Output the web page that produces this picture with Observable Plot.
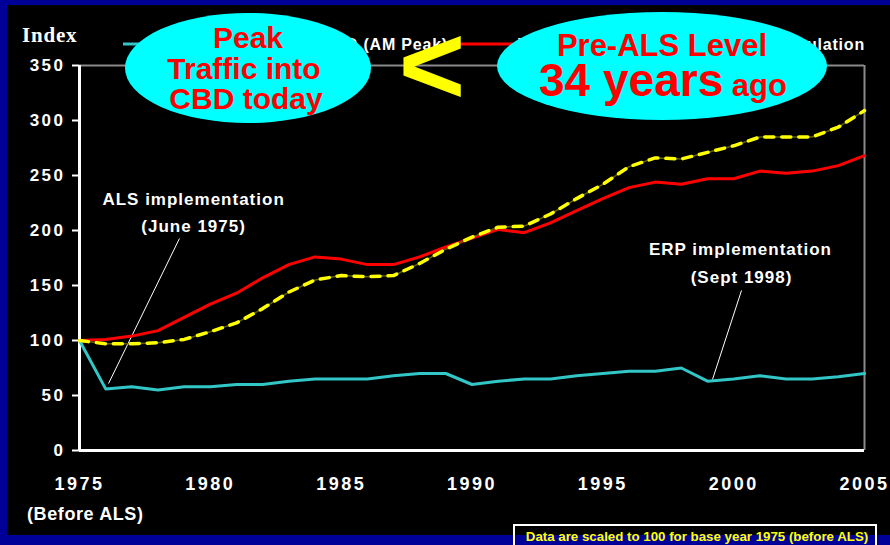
<!DOCTYPE html>
<html>
<head>
<meta charset="utf-8">
<script src="https://cdn.jsdelivr.net/npm/d3@7"></script>
<script src="https://cdn.jsdelivr.net/npm/@observablehq/plot@0.6"></script>
<style>
  html, body { margin: 0; padding: 0; background: #000099; }
  #chart { width: 890px; height: 545px; }
</style>
</head>
<body>
<div id="chart"></div>
<script>
// ---- data ----
const years = [1975,1976,1977,1978,1979,1980,1981,1982,1983,1984,1985,1986,1987,1988,1989,1990,
               1991,1992,1993,1994,1995,1996,1997,1998,1999,2000,2001,2002,2003,2004,2005];
const traffic = [100,56,58,55,58,58,60,60,63,65,65,65,68,70,70,60,63,65,65,68,70,72,72,75,63,65,68,65,65,67,70];
const vehicles = [100,101,104,109,121,133,143,157,169,176,174,169,169,176,185,193,201,198,207,218,229,239,244,242,247,247,254,252,254,259,268];
const population = [100,97,97,98,101,108,116,129,144,155,159,158,159,170,183,194,203,204,215,229,242,258,266,265,271,277,285,285,285,294,309];
const seriesNames = ["Traffic into CBD (AM Peak)", "Vehicle Population", "Working Population"];
const xTicks = [1975,1980,1985,1990,1995,2000,2005];
const yTicks = [0,50,100,150,200,250,300,350];
const annotations = [
  {x: 1979.36, y: 228, text: "ALS implementation"},
  {x: 1979.36, y: 203.6, text: "(June 1975)"},
  {x: 2000.26, y: 182.7, text: "ERP implementation"},
  {x: 2000.3, y: 157.3, text: "(Sept 1998)"}
];
const pointers = [
  {x1: 1978.82, y1: 192.7, x2: 1976.11, y2: 60.9},
  {x1: 2000.3, y1: 145.5, x2: 1999.19, y2: 64.5}
];
const bubble1 = ["Peak", "Traffic into", "CBD today"];
const bubble2 = ["Pre-ALS Level", "34 years", "ago"];
const noteText = "Data are scaled to 100 for base year 1975 (before ALS)";

const rows = years.map((year, i) => ({year, traffic: traffic[i], vehicles: vehicles[i], population: population[i]}));

const FONT = "'Liberation Sans', Arial, Helvetica, sans-serif";

const svg = Plot.plot({
  width: 890,
  height: 545,
  marginLeft: 79,
  marginRight: 26,
  marginTop: 65,
  marginBottom: 95,
  style: {background: "#000099", color: "white", fontFamily: FONT, fontSize: "17px", fontWeight: "bold", overflow: "visible"},
  x: {domain: [1975, 2005], label: null},
  y: {domain: [0, 350], label: null},
  marks: [
    Plot.ruleY([350], {stroke: "#8a8a8a", strokeWidth: 2}),
    Plot.ruleX([2005], {stroke: "#8a8a8a", strokeWidth: 2}),
    Plot.axisY({ticks: yTicks, tickSize: 7, tickPadding: 7, stroke: "white", strokeWidth: 2, fontSize: 17, label: null}),
    Plot.axisX({ticks: xTicks, tickSize: 0, tickPadding: 27, tickFormat: d => String(d), fontSize: 18, label: null}),
    Plot.ruleY([0], {stroke: "white", strokeWidth: 3}),
    Plot.ruleX([1975], {stroke: "white", strokeWidth: 3}),
    Plot.link(pointers, {x1: "x1", y1: "y1", x2: "x2", y2: "y2", stroke: "white", strokeWidth: 1}),
    Plot.line(rows, {x: "year", y: "traffic", stroke: "#33c6c6", strokeWidth: 3}),
    Plot.line(rows, {x: "year", y: "vehicles", stroke: "#ff0000", strokeWidth: 3}),
    Plot.line(rows, {x: "year", y: "population", stroke: "#5c5c00", strokeWidth: 1.5}),
    Plot.line(rows, {x: "year", y: "population", stroke: "#ffff00", strokeWidth: 3.5, strokeDasharray: "9,8"}),
    Plot.text(annotations, {x: "x", y: "y", text: "text", fill: "white", fontSize: 17, fontWeight: "bold", textAnchor: "middle"})
  ]
});

const s = d3.select(svg);
// letter spacing like the original slide
s.selectAll('g[aria-label="y-axis tick label"] text').attr("letter-spacing", "2.5px");
s.selectAll('g[aria-label="x-axis tick label"] text').attr("letter-spacing", "2.5px");
s.selectAll('g[aria-label="text"] text').attr("letter-spacing", "1px");

// black panel behind everything
s.insert("rect", ":first-child").attr("x", 7).attr("y", 5).attr("width", 883).attr("height", 530).attr("fill", "black");

// "Index" label
s.append("text").attr("x", 22).attr("y", 42).attr("fill", "white").attr("text-anchor", "start")
  .attr("font-family", "'Liberation Serif', 'Times New Roman', serif").attr("font-size", 21).attr("font-weight", "bold")
  .attr("letter-spacing", "0.8px").text("Index");

// "(Before ALS)"
s.append("text").attr("x", 27).attr("y", 520).attr("fill", "white").attr("text-anchor", "start")
  .attr("font-family", FONT).attr("font-size", 18).attr("font-weight", "bold").attr("letter-spacing", "0.6px")
  .text("(Before ALS)");

// legend
const colors = ["#33c6c6", "#ff0000", "#ffff00"];
const lg = s.append("g").attr("font-family", FONT).attr("font-size", 16).attr("font-weight", "bold").attr("fill", "white");
lg.append("line").attr("x1", 123).attr("x2", 160).attr("y1", 44).attr("y2", 44).attr("stroke", colors[0]).attr("stroke-width", 3);
lg.append("text").attr("x", 448).attr("y", 50).attr("text-anchor", "end").attr("letter-spacing", "0.8px").text(seriesNames[0]);
lg.append("line").attr("x1", 460).attr("x2", 513).attr("y1", 44).attr("y2", 44).attr("stroke", colors[1]).attr("stroke-width", 3);
lg.append("text").attr("x", 518).attr("y", 50).attr("text-anchor", "start").attr("letter-spacing", "0.8px").text(seriesNames[1]);
lg.append("line").attr("x1", 672).attr("x2", 712).attr("y1", 44).attr("y2", 44).attr("stroke", colors[2]).attr("stroke-width", 3).attr("stroke-dasharray", "9,6");
lg.append("text").attr("x", 865).attr("y", 50).attr("text-anchor", "end").attr("letter-spacing", "0.8px").text(seriesNames[2]);

// bubble 1
s.append("ellipse").attr("cx", 248).attr("cy", 68).attr("rx", 123).attr("ry", 55).attr("fill", "#00ffff");
const b1 = s.append("g").attr("font-family", FONT).attr("font-weight", "bold").attr("fill", "#ff0000").attr("text-anchor", "middle").attr("font-size", 30);
b1.append("text").attr("x", 248).attr("y", 48).text(bubble1[0]);
b1.append("text").attr("x", 244).attr("y", 79).text(bubble1[1]);
b1.append("text").attr("x", 246).attr("y", 109).text(bubble1[2]);

// "<"
s.append("text").attr("x", 432).attr("y", 104).attr("text-anchor", "middle").attr("fill", "#ffff00")
  .attr("font-family", FONT).attr("font-weight", "bold").attr("font-size", 114).text("<");

// bubble 2
s.append("ellipse").attr("cx", 662).attr("cy", 66).attr("rx", 165).attr("ry", 54).attr("fill", "#00ffff");
const b2 = s.append("g").attr("font-family", FONT).attr("font-weight", "bold").attr("fill", "#ff0000").attr("text-anchor", "middle");
b2.append("text").attr("x", 662).attr("y", 56).attr("font-size", 31).text(bubble2[0]);
const t2 = b2.append("text").attr("x", 663).attr("y", 96);
t2.append("tspan").attr("font-size", 46).text(bubble2[1]);
t2.append("tspan").attr("font-size", 31).text(" " + bubble2[2]);

// note box
s.append("rect").attr("x", 514).attr("y", 525).attr("width", 362).attr("height", 24).attr("fill", "none").attr("stroke", "white").attr("stroke-width", 2);
s.append("text").attr("x", 697).attr("y", 541).attr("text-anchor", "middle").attr("fill", "#ffff00")
  .attr("font-family", FONT).attr("font-weight", "bold").attr("font-size", 13.3).text(noteText);

document.getElementById("chart").appendChild(svg);
</script>
</body>
</html>
